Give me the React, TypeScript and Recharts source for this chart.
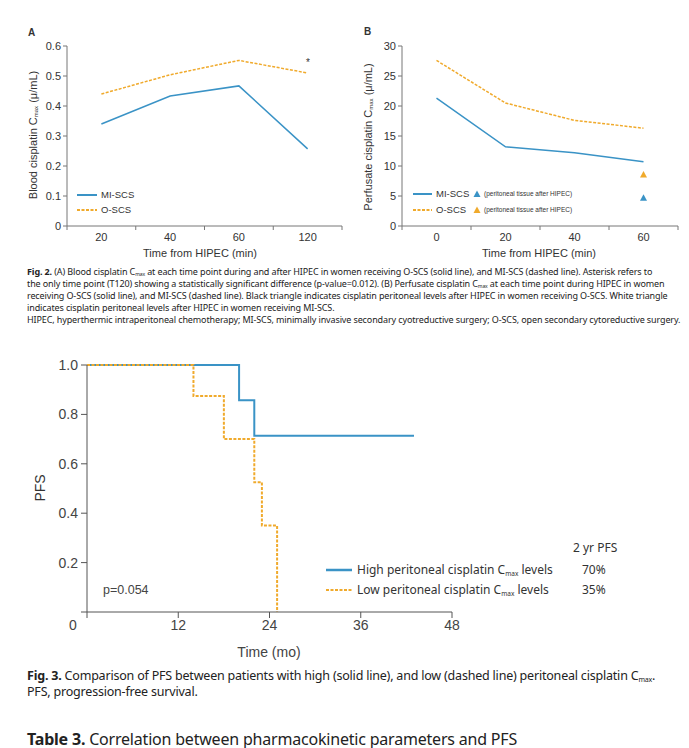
import React from "react";
import { LineChart, Line, XAxis, YAxis } from "recharts";

// Fig. 2A — blood cisplatin Cmax
const timesA = ["20", "40", "60", "120"];
const bloodMI = [0.34, 0.433, 0.467, 0.257];
const bloodO = [0.44, 0.504, 0.552, 0.51];
const ticksA = [0, 0.1, 0.2, 0.3, 0.4, 0.5, 0.6];

// Fig. 2B — perfusate cisplatin Cmax
const timesB = ["0", "20", "40", "60"];
const perfMI = [21.3, 13.2, 12.2, 10.7];
const perfO = [27.6, 20.5, 17.6, 16.3];
const tissueMI = [null, null, null, 4.7];
const tissueO = [null, null, null, 8.6];
const ticksB = [0, 5, 10, 15, 20, 25, 30];

// Fig. 3 — Kaplan-Meier PFS
const highT = [0, 20, 22, 43];
const highS = [1, 0.857, 0.714, 0.714];
const lowT = [0, 14, 18, 22, 23, 25];
const lowS = [1, 0.875, 0.7, 0.525, 0.35, 0];
const kmXTicks = [0, 12, 24, 36, 48];
const kmYTicks = [0, 0.2, 0.4, 0.6, 0.8, 1.0];

const BLUE = "#3a93c6";
const ORANGE = "#f0aa2c";
const AXIS = "#777";
const TXT = "#333";
const CHART_FONT = "'Liberation Sans', Arial, sans-serif";
const CAP_FONT = "'Noto Sans', 'Open Sans', sans-serif";

const dataA = timesA.map((t, i) => ({ t, mi: bloodMI[i], o: bloodO[i] }));
const dataB = timesB.map((t, i) => ({
  t,
  mi: perfMI[i],
  o: perfO[i],
  tmi: tissueMI[i],
  to: tissueO[i],
}));
const dataHigh = highT.map((t, i) => ({ t, s: highS[i] }));
const dataLow = lowT.map((t, i) => ({ t, s: lowS[i] }));

function BandTick(props: any) {
  const { x, y, payload, index, count } = props;
  const half = payload.offset ?? 34.4;
  return (
    <g>
      <line x1={x - half} x2={x - half} y1={y - 7} y2={y - 3} stroke={AXIS} />
      {index === count - 1 && (
        <line x1={x + half} x2={x + half} y1={y - 7} y2={y - 3} stroke={AXIS} />
      )}
      <text x={x} y={y} dy="0.71em" textAnchor="middle" fontSize={11} fill={TXT} fontFamily={CHART_FONT}>
        {payload.value}
      </text>
    </g>
  );
}

const triangle = (color: string) => (props: any) => {
  const { cx, cy, index } = props;
  if (cy == null || cx == null) return <g key={`n${index}`} />;
  return (
    <path key={`t${index}`} d={`M${cx},${cy - 3.5} L${cx + 3.5},${cy + 3} L${cx - 3.5},${cy + 3} Z`} fill={color} />
  );
};

const Txt = ({ x, y, size, children, style }: any) => (
  <div
    style={{
      position: "absolute",
      left: x,
      top: y,
      fontSize: size,
      lineHeight: 1,
      whiteSpace: "nowrap",
      transform: "translateY(-50%)",
      ...style,
    }}
  >
    {children}
  </div>
);

const VTxt = ({ x, y, size, children }: any) => (
  <div
    style={{
      position: "absolute",
      left: x,
      top: y,
      fontSize: size,
      lineHeight: 1,
      whiteSpace: "nowrap",
      color: TXT,
      fontFamily: CHART_FONT,
      transform: "translate(-50%, -50%) rotate(-90deg)",
    }}
  >
    {children}
  </div>
);

const Sub = ({ size = 6 }: any) => (
  <span style={{ fontSize: size, verticalAlign: "-0.25em", lineHeight: 0 }}>max</span>
);

const LegLine = ({ x, y, w, color, dashed, width = 2 }: any) => (
  <svg style={{ position: "absolute", left: x, top: y - 3 }} width={w} height={6}>
    <line x1={0} x2={w} y1={3} y2={3} stroke={color} strokeWidth={width} strokeDasharray={dashed ? "3 1.5" : undefined} />
  </svg>
);

const LegTri = ({ x, y, color }: any) => (
  <svg style={{ position: "absolute", left: x - 4, top: y - 4 }} width={8} height={8}>
    <path d="M4,0.5 L7.5,7 L0.5,7 Z" fill={color} />
  </svg>
);

export default function App() {
  return (
    <div
      style={{
        position: "absolute",
        left: 0,
        top: 0,
        width: 689,
        height: 748,
        background: "#fff",
        overflow: "hidden",
        fontFamily: CHART_FONT,
        color: TXT,
      }}
    >
      {/* Fig 2A */}
      <div style={{ position: "absolute", left: 0, top: 0 }}>
        <LineChart width={350} height={260} data={dataA} margin={{ top: 46, right: 8, bottom: 4, left: 0 }}>
          <XAxis
            dataKey="t"
            scale="band"
            tickLine={false}
            tickSize={0}
            tickMargin={7}
            height={30}
            stroke={AXIS}
            interval={0}
            tick={(p: any) => <BandTick {...p} count={timesA.length} />}
          />
          <YAxis
            width={67}
            domain={[0, 0.6]}
            ticks={ticksA}
            tickSize={4}
            tickMargin={2}
            stroke={AXIS}
            tick={{ fontSize: 11, fill: TXT }}
          />
          <Line dataKey="mi" stroke={BLUE} strokeWidth={1.5} dot={false} isAnimationActive={false} />
          <Line dataKey="o" stroke={ORANGE} strokeWidth={1.5} strokeDasharray="3 1.5" dot={false} isAnimationActive={false} />
        </LineChart>
      </div>
      <Txt x={28} y={33} size={10} style={{ fontWeight: "bold" }}>A</Txt>
      <Txt x={306} y={63} size={10}>*</Txt>
      <VTxt x={33} y={135} size={11}>
        Blood cisplatin C<Sub /> (μ/mL)
      </VTxt>
      <Txt x={200} y={253} size={11} style={{ transform: "translate(-50%,-50%)" }}>Time from HIPEC (min)</Txt>
      <LegLine x={77} y={195} w={20} color={BLUE} />
      <Txt x={101} y={195} size={9.5}>MI-SCS</Txt>
      <LegLine x={77} y={210} w={20} color={ORANGE} dashed />
      <Txt x={101} y={210} size={9.5}>O-SCS</Txt>

      {/* Fig 2B */}
      <div style={{ position: "absolute", left: 340, top: 0 }}>
        <LineChart width={345} height={260} data={dataB} margin={{ top: 46, right: 7, bottom: 4, left: 0 }}>
          <XAxis
            dataKey="t"
            scale="band"
            tickLine={false}
            tickSize={0}
            tickMargin={7}
            height={30}
            stroke={AXIS}
            interval={0}
            tick={(p: any) => <BandTick {...p} count={timesB.length} />}
          />
          <YAxis
            width={62}
            domain={[0, 30]}
            ticks={ticksB}
            tickSize={4}
            tickMargin={2}
            stroke={AXIS}
            tick={{ fontSize: 11, fill: TXT }}
          />
          <Line dataKey="mi" stroke={BLUE} strokeWidth={1.5} dot={false} isAnimationActive={false} />
          <Line dataKey="o" stroke={ORANGE} strokeWidth={1.5} strokeDasharray="3 1.5" dot={false} isAnimationActive={false} />
          <Line dataKey="tmi" stroke="none" dot={triangle(BLUE)} activeDot={false} isAnimationActive={false} />
          <Line dataKey="to" stroke="none" dot={triangle(ORANGE)} activeDot={false} isAnimationActive={false} />
        </LineChart>
      </div>
      <Txt x={364} y={32} size={10} style={{ fontWeight: "bold" }}>B</Txt>
      <VTxt x={368} y={137} size={11}>
        Perfusate cisplatin C<Sub /> (μ/mL)
      </VTxt>
      <Txt x={539} y={253} size={11} style={{ transform: "translate(-50%,-50%)" }}>Time from HIPEC (min)</Txt>
      <LegLine x={413} y={194} w={19} color={BLUE} />
      <Txt x={436} y={194} size={9.5}>MI-SCS</Txt>
      <LegTri x={477} y={194} color={BLUE} />
      <Txt x={484} y={194} size={6.5}>(peritoneal tissue after HIPEC)</Txt>
      <LegLine x={413} y={210} w={19} color={ORANGE} dashed />
      <Txt x={436} y={210} size={9.5}>O-SCS</Txt>
      <LegTri x={477} y={210} color={ORANGE} />
      <Txt x={484} y={210} size={6.5}>(peritoneal tissue after HIPEC)</Txt>

      {/* Fig 2 caption */}
      <div style={{ position: "absolute", left: 27, top: 266, fontFamily: CAP_FONT, fontSize: 9, lineHeight: "12px", color: "#222", whiteSpace: "nowrap", letterSpacing: -0.12 }}>
        <div style={{ height: 12 }}><b>Fig. 2.</b> (A) Blood cisplatin C<Sub size={5} /> at each time point during and after HIPEC in women receiving O-SCS (solid line), and MI-SCS (dashed line). Asterisk refers to</div>
        <div style={{ height: 12 }}>the only time point (T120) showing a statistically significant difference (p-value=0.012). (B) Perfusate cisplatin C<Sub size={5} /> at each time point during HIPEC in women</div>
        <div style={{ height: 12 }}>receiving O-SCS (solid line), and MI-SCS (dashed line). Black triangle indicates cisplatin peritoneal levels after HIPEC in women receiving O-SCS. White triangle</div>
        <div style={{ height: 12 }}>indicates cisplatin peritoneal levels after HIPEC in women receiving MI-SCS.</div>
        <div style={{ height: 12 }}>HIPEC, hyperthermic intraperitoneal chemotherapy; MI-SCS, minimally invasive secondary cyotreductive surgery; O-SCS, open secondary cytoreductive surgery.</div>
      </div>

      {/* Fig 3 KM */}
      <div style={{ position: "absolute", left: 0, top: 340 }}>
        <LineChart width={470} height={330} margin={{ top: 25, right: 18, bottom: 28, left: 0 }}>
          <XAxis
            dataKey="t"
            type="number"
            domain={[0, 48]}
            ticks={kmXTicks}
            tickSize={6}
            tickMargin={2}
            height={30}
            stroke="#555"
            tick={(p: any) => (
              <text
                x={p.payload.value === 0 ? p.x - 14 : p.x}
                y={p.y}
                dy="0.71em"
                textAnchor="middle"
                fontSize={14}
                fill="#444"
                fontFamily={CHART_FONT}
              >
                {p.payload.value}
              </text>
            )}
          />
          <YAxis
            width={87}
            type="number"
            domain={[0, 1]}
            ticks={kmYTicks}
            tickSize={6}
            tickMargin={3}
            stroke="#555"
            tickFormatter={(v: number) => (v === 0 ? "" : v.toFixed(1))}
            tick={{ fontSize: 14, fill: "#444" }}
          />
          <Line data={dataHigh} dataKey="s" type="stepAfter" stroke={BLUE} strokeWidth={2} dot={false} isAnimationActive={false} />
          <Line data={dataLow} dataKey="s" type="stepAfter" stroke={ORANGE} strokeWidth={2} strokeDasharray="3 1.5" dot={false} isAnimationActive={false} />
        </LineChart>
      </div>
      <VTxt x={40} y={488} size={14}>PFS</VTxt>
      <Txt x={269} y={652} size={14} style={{ transform: "translate(-50%,-50%)", color: "#444" }}>Time (mo)</Txt>
      <Txt x={103} y={590} size={12.5} style={{ color: "#444" }}>p=0.054</Txt>
      <div style={{ fontFamily: CAP_FONT, color: "#333" }}>
        <Txt x={573} y={548} size={12}>2 yr PFS</Txt>
        <LegLine x={326} y={570} w={26} color={BLUE} width={2.5} />
        <Txt x={357} y={570} size={12}>High peritoneal cisplatin C<Sub size={6.5} /> levels</Txt>
        <Txt x={582} y={570} size={12}>70%</Txt>
        <LegLine x={326} y={590} w={26} color={ORANGE} dashed width={2} />
        <Txt x={357} y={590} size={12}>Low peritoneal cisplatin C<Sub size={6.5} /> levels</Txt>
        <Txt x={582} y={590} size={12}>35%</Txt>
      </div>

      {/* Fig 3 caption */}
      <div style={{ position: "absolute", left: 27, top: 668, fontFamily: CAP_FONT, fontSize: 12.5, lineHeight: "16px", color: "#222", whiteSpace: "nowrap", letterSpacing: -0.2 }}>
        <div style={{ height: 16 }}><b>Fig. 3.</b> Comparison of PFS between patients with high (solid line), and low (dashed line) peritoneal cisplatin C<Sub size={7} />.</div>
        <div style={{ height: 16 }}>PFS, progression-free survival.</div>
      </div>
      <div style={{ position: "absolute", left: 27, top: 731, fontFamily: CAP_FONT, fontSize: 16, lineHeight: "17px", color: "#222", whiteSpace: "nowrap", letterSpacing: -0.2 }}>
        <b>Table 3.</b> Correlation between pharmacokinetic parameters and PFS
      </div>
    </div>
  );
}
